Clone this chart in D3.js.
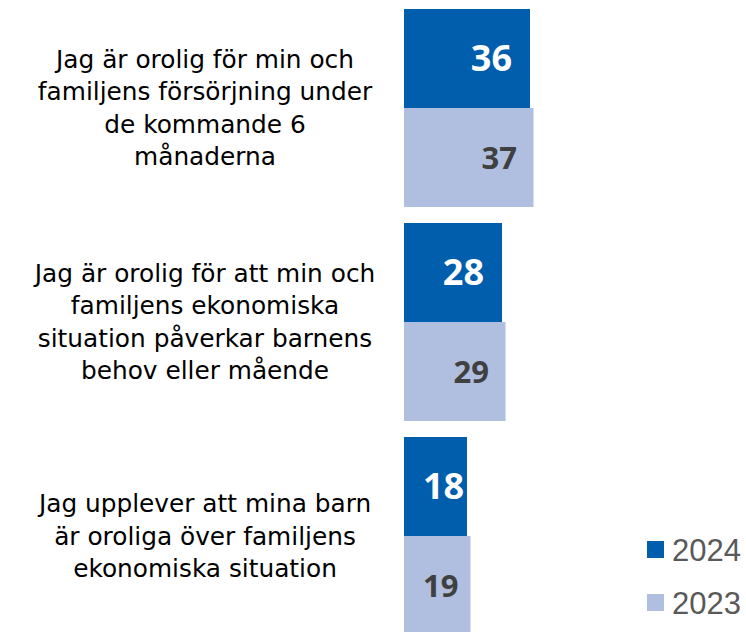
<!DOCTYPE html>
<html>
<head>
<meta charset="utf-8">
<script src="https://cdn.jsdelivr.net/npm/d3@7"></script>
<style>
  body { margin: 0; background: #fff; }
  svg { display: block; }
</style>
</head>
<body>
<div class="chart"></div>
<script>
// data
const categories = [
    ["Jag är orolig för min och", "familjens försörjning under", "de kommande 6", "månaderna"],
    ["Jag är orolig för att min och", "familjens ekonomiska", "situation påverkar barnens", "behov eller mående"],
    ["Jag upplever att mina barn", "är oroliga över familjens", "ekonomiska situation"]
];
const seriesNames = ["2024", "2023"];
const values2024 = [36, 28, 18];
const values2023 = [37, 29, 19];

const colors = { "2024": "#005EAD", "2023": "#B0BFDF" };
const labelColors = { "2024": "#ffffff", "2023": "#404040" };

const width = 746, height = 632;
const labelFont = "'DejaVu Sans', sans-serif";

const svg = d3.select(".chart")
    .append("svg")
    .attr("width", width)
    .attr("height", height);

const x = d3.scaleLinear().domain([0, 10]).range([404, 439]);

// groups start every 214px, 16px gap between groups
const y0 = d3.scaleBand()
    .domain(d3.range(categories.length))
    .range([9, 9 + 214 * 3 - 16])
    .paddingInner(16 / 214)
    .paddingOuter(0);

const y1 = d3.scaleBand()
    .domain(seriesNames)
    .range([0, y0.bandwidth()]);

const rows = seriesNames.flatMap(s => {
    const vals = s === "2024" ? values2024 : values2023;
    return vals.map((v, i) => ({ series: s, index: i, value: v }));
});

svg.append("g")
    .selectAll("rect")
    .data(rows)
    .join("rect")
    .attr("x", x(0))
    .attr("y", d => y0(d.index) + y1(d.series))
    .attr("width", d => x(d.value) - x(0))
    .attr("height", y1.bandwidth())
    .attr("fill", d => colors[d.series]);

// value labels sit near the bar end, but never closer than ~19px to the bar start
svg.append("g")
    .selectAll("text")
    .data(rows)
    .join("text")
    .attr("y", d => y0(d.index) + y1(d.series) + y1.bandwidth() / 2)
    .attr("dy", "0.36em")
    .attr("text-anchor", "end")
    .attr("font-family", "'Open Sans', sans-serif")
    .attr("font-weight", "bold")
    .attr("font-size", d => d.series === "2024" ? 36 : 31)
    .attr("fill", d => labelColors[d.series])
    .text(d => d.value)
    .attr("x", function (d) {
        const w = this.getComputedTextLength();
        const end = x(d.value) - (d.series === "2024" ? 18 : 16.5);
        return Math.max(end, x(0) + 19 + w);
    });

// category labels, centred to the left of each group
const lineHeight = 32.5;
const labelGroups = svg.append("g")
    .selectAll("text")
    .data(categories)
    .join("text")
    .attr("text-anchor", "middle")
    .attr("font-family", labelFont)
    .attr("font-size", 24.8)
    .attr("fill", "#000")
    .attr("transform", (d, i) => {
        const mid = y0(i) + y0.bandwidth() / 2;
        return `translate(205,${mid - (d.length - 1) * lineHeight / 2})`;
    });

labelGroups.selectAll("tspan")
    .data(d => d)
    .join("tspan")
    .attr("x", 0)
    .attr("y", (d, i) => i * lineHeight)
    .attr("dy", "0.35em")
    .text(d => d);

// legend
const legend = svg.append("g")
    .selectAll("g")
    .data(seriesNames)
    .join("g")
    .attr("transform", (d, i) => `translate(647,${541 + i * 53})`);

legend.append("rect")
    .attr("width", 17)
    .attr("height", 17)
    .attr("fill", d => colors[d]);

legend.append("text")
    .attr("x", 25)
    .attr("y", 8.5)
    .attr("dy", "0.36em")
    .attr("font-family", "'Liberation Sans', Arial, sans-serif")
    .attr("font-size", 31)
    .attr("fill", "#595959")
    .text(d => d);
</script>
</body>
</html>
